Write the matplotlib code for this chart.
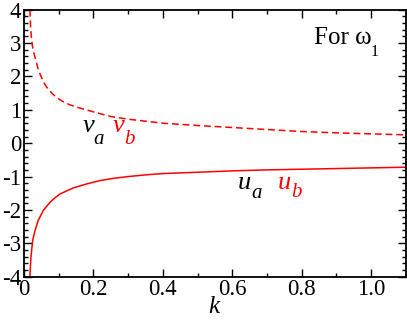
import numpy as np
import matplotlib
matplotlib.use("Agg")
import matplotlib.pyplot as plt
from matplotlib.ticker import MultipleLocator

plt.rcParams['font.family'] = ['Liberation Serif', 'DejaVu Serif']
plt.rcParams['mathtext.fontset'] = 'custom'
plt.rcParams['mathtext.rm'] = 'Liberation Serif'
plt.rcParams['mathtext.it'] = 'Liberation Serif:italic'
plt.rcParams['axes.unicode_minus'] = False

# dashed branch (v)
k_v = [0.017, 0.019, 0.022, 0.027, 0.032, 0.04, 0.046, 0.055, 0.065, 0.08,
       0.094, 0.11, 0.13, 0.155, 0.18, 0.21, 0.25, 0.3, 0.35, 0.4, 0.5, 0.6,
       0.7, 0.8, 0.9, 1.0, 1.1]
v_vals = [4.0, 3.5, 3.07, 2.75, 2.57, 2.25, 2.08, 1.86, 1.68, 1.5,
          1.37, 1.26, 1.16, 1.07, 1.0, 0.91, 0.8, 0.72, 0.66, 0.6, 0.53, 0.47,
          0.41, 0.35, 0.31, 0.28, 0.25]

# solid branch (u)
k_u = [0.017, 0.0185, 0.020, 0.025, 0.032, 0.041, 0.056, 0.075, 0.09, 0.104,
       0.142, 0.181, 0.219, 0.26, 0.3, 0.35, 0.4, 0.5, 0.6, 0.7, 0.8, 0.9,
       1.0, 1.1]
u_vals = [-4.0, -3.7, -3.41, -2.91, -2.61, -2.31, -2.01, -1.77, -1.63, -1.52,
          -1.34, -1.22, -1.12, -1.05, -1.0, -0.95, -0.91, -0.87, -0.83, -0.8,
          -0.78, -0.76, -0.74, -0.72]

RED = '#ff0000'

fig = plt.figure(figsize=(4.07, 3.2), dpi=100)
ax = fig.add_axes([0.059, 0.1355, 0.938, 0.834])

ax.plot(k_v, v_vals, color=RED, lw=1.1, ls=(0, (4.5, 2.5)))
ax.plot(k_u, u_vals, color=RED, lw=1.1)

ax.set_xlim(0, 1.1)
ax.set_ylim(-4, 4)
ax.xaxis.set_minor_locator(MultipleLocator(0.1))
ax.yaxis.set_minor_locator(MultipleLocator(0.2))
ax.set_xticks([0, 0.2, 0.4, 0.6, 0.8, 1.0])
ax.set_xticklabels(['0', '0.2', '0.4', '0.6', '0.8', '1.0'])
ax.set_yticks(range(-4, 5))
ax.set_yticklabels([str(i) for i in range(-4, 5)])
ax.tick_params(which='both', direction='in', top=True, right=True,
               labelsize=16.5, width=1.0, pad=2)
ax.tick_params(which='major', length=6)
ax.tick_params(which='minor', length=3)
for s in ax.spines.values():
    s.set_linewidth(1.3)

ax.set_xlabel('$k$', fontsize=18, labelpad=-3)

# curve labels: letter plus a lowered subscript
ax.text(0.166, 0.33, '$v$', fontsize=19, color='black', va='baseline')
ax.text(0.2, -0.01, '$a$', fontsize=15, color='black', va='baseline')
ax.text(0.253, 0.33, '$v$', fontsize=19, color=RED, va='baseline')
ax.text(0.288, -0.01, '$b$', fontsize=15, color=RED, va='baseline')
ax.text(0.613, -1.365, '$u$', fontsize=19, color='black', va='baseline')
ax.text(0.653, -1.65, '$a$', fontsize=15, color='black', va='baseline')
ax.text(0.728, -1.365, '$u$', fontsize=19, color=RED, va='baseline')
ax.text(0.768, -1.62, '$b$', fontsize=15, color=RED, va='baseline')

ax.text(0.836, 2.98, 'For ω', fontsize=18, va='baseline')
ax.text(0.998, 2.62, '1', fontsize=11.5, va='baseline')

fig.savefig('out.png', dpi=100)
